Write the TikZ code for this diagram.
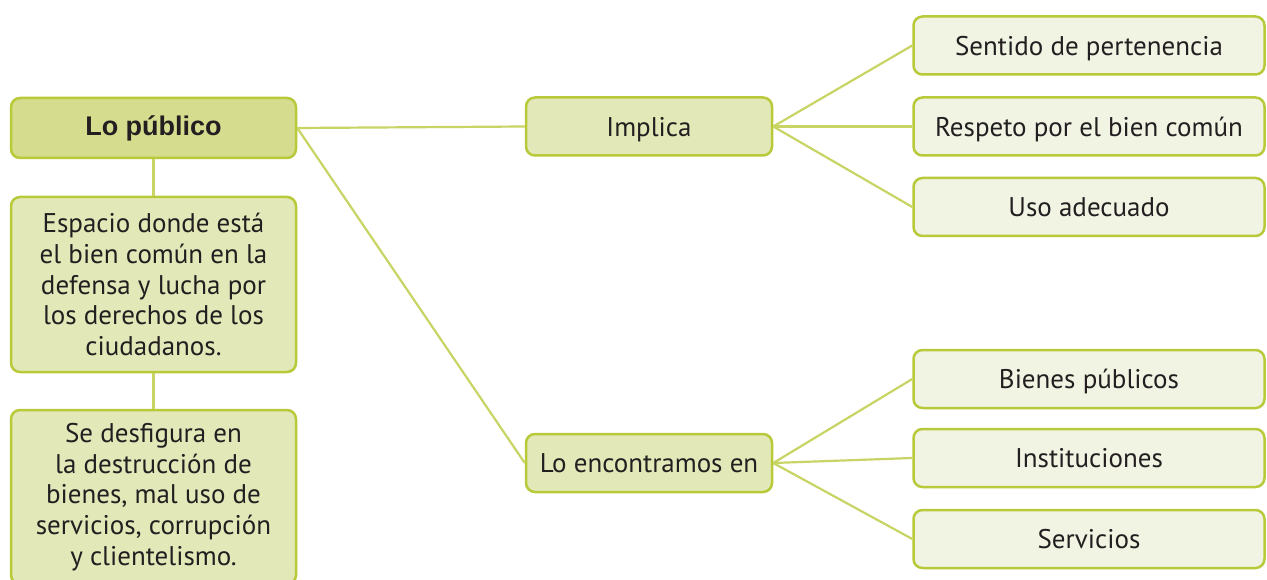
\documentclass[tikz,border=0pt]{standalone}
\usepackage{fontspec}
\setmainfont{PT Sans}
\newfontfamily\rootfont{Liberation Sans}
\usetikzlibrary{positioning}
\definecolor{mainfill}{RGB}{213,220,142}
\definecolor{midfill}{RGB}{226,232,184}
\definecolor{leaffill}{RGB}{241,244,227}
\definecolor{boxline}{RGB}{184,201,58}
\definecolor{linkline}{RGB}{200,213,100}
\definecolor{inkgrey}{RGB}{35,31,32}

\tikzset{
  concept/.style={draw=boxline, line width=2.5pt, rounded corners=9pt, align=center,
    inner sep=0pt, text=inkgrey, font=\fontsize{27}{30.7}\selectfont},
  rootbox/.style={concept, fill=mainfill, minimum width=285pt, minimum height=60pt,
    font=\rootfont\bfseries\fontsize{27}{30}\selectfont},
  notebox/.style={concept, fill=midfill, minimum width=285pt},
  midbox/.style={concept, fill=midfill, minimum width=246pt, minimum height=58pt, text depth=0pt},
  leafbox/.style={concept, fill=leaffill, minimum width=351pt, minimum height=58pt, text depth=0pt},
  link/.style={draw=linkline, line width=2.2pt}
}

\begin{document}
\begin{tikzpicture}[x=1pt, y=-1pt]
\clip (0,0) rectangle (1267,580);
\fill[white] (0,0) rectangle (1267,580);

\node[rootbox] (lopub) at (153.5,128) {Lo público};
\node[notebox, minimum height=175pt] (espacio) at (153.5,284.5) {Espacio donde está\\el bien común en la\\defensa y lucha por\\los derechos de los\\ciudadanos.};
\node[notebox, minimum height=174pt] (desfig) at (153.5,497) {Se desfigura en\\la destrucción de\\bienes, mal uso de\\servicios, corrupción\\y clientelismo.};

\node[midbox] (implica) at (649,126.5) {Implica};
\node[midbox] (encontr) at (649,463) {Lo encontramos en};

\node[leafbox] (sentido) at (1089,45.5) {Sentido de pertenencia};
\node[leafbox] (respeto) at (1089,126.5) {Respeto por el bien común};
\node[leafbox] (uso) at (1089,207) {Uso adecuado};
\node[leafbox] (bienes) at (1089,379) {Bienes públicos};
\node[leafbox] (instit) at (1089,458) {Instituciones};
\node[leafbox] (servic) at (1089,539) {Servicios};

\draw[link] (lopub.south) -- (espacio.north);
\draw[link] (espacio.south) -- (desfig.north);
\draw[link] (lopub.east) -- (implica.west);
\draw[link] (lopub.east) -- (encontr.west);
\foreach \leaf in {sentido,respeto,uso}
  \draw[link] (implica.east) -- (\leaf.west);
\foreach \leaf in {bienes,instit,servic}
  \draw[link] (encontr.east) -- (\leaf.west);
\end{tikzpicture}
\end{document}
